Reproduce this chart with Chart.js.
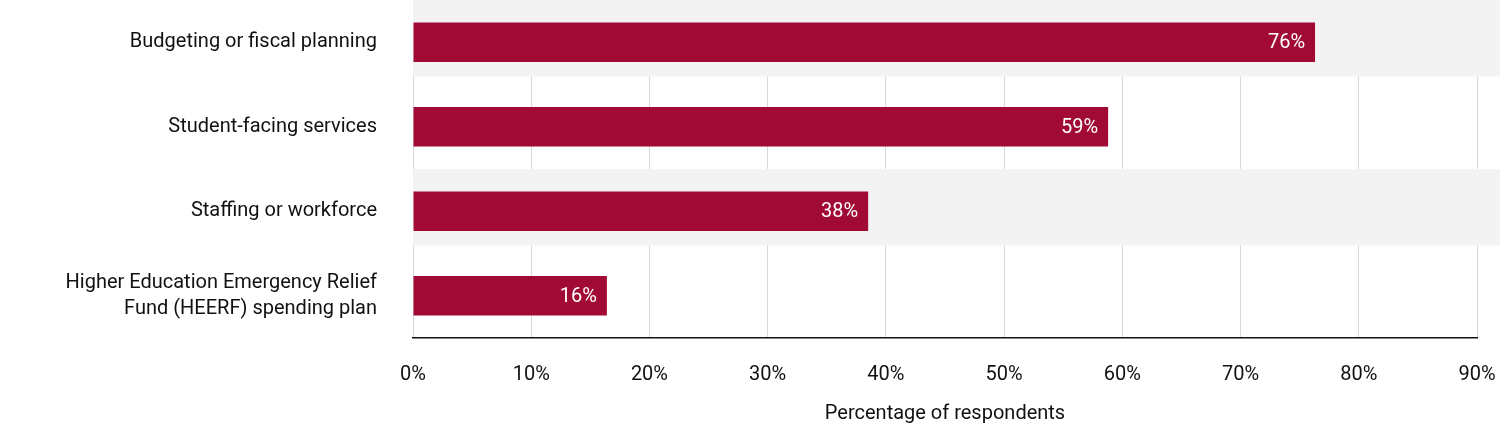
<!DOCTYPE html>
<html lang="en">
<head>
<meta charset="UTF-8">
<title>Respondents chart</title>
<script src="https://cdn.jsdelivr.net/npm/chart.js@4.4.0/dist/chart.umd.min.js"></script>
<style>
    html, body { margin: 0; padding: 0; background: #fff; }
    #wrap { width: 1500px; height: 430px; position: relative; }
</style>
</head>
<body>
<div id="wrap"><canvas id="chart"></canvas></div>
<script>
    const categories = [
        'Budgeting or fiscal planning',
        'Student-facing services',
        'Staffing or workforce',
        ['Higher Education Emergency Relief', 'Fund (HEERF) spending plan']
    ];
    const values = [76.3, 58.8, 38.5, 16.4];
    const valueLabels = ['76%', '59%', '38%', '16%'];
    const xTicks = [0, 10, 20, 30, 40, 50, 60, 70, 80, 90];

    const FONT = 'Roboto, sans-serif';

    // gray stripes behind every other row
    const bandPlugin = {
        id: 'bands',
        beforeDatasetsDraw(chart) {
            const { ctx, chartArea, scales } = chart;
            const y = scales.y;
            ctx.save();
            ctx.fillStyle = '#f3f3f3';
            categories.forEach((c, i) => {
                if (i % 2) return;
                const c0 = y.getPixelForValue(i);
                const half = (y.getPixelForValue(1) - y.getPixelForValue(0)) / 2;
                ctx.fillRect(chartArea.left, c0 - half, chart.width - chartArea.left, half * 2 - 8);
            });
            ctx.restore();
        }
    };

    const labelPlugin = {
        id: 'valueLabels',
        afterDatasetsDraw(chart) {
            const { ctx } = chart;
            const meta = chart.getDatasetMeta(0);
            ctx.save();
            ctx.fillStyle = '#fff';
            ctx.font = '20px ' + FONT;
            ctx.textAlign = 'right';
            ctx.textBaseline = 'middle';
            meta.data.forEach((bar, i) => {
                ctx.fillText(valueLabels[i], bar.x - 10, bar.y + 1);
            });
            ctx.restore();
        }
    };

    new Chart(document.getElementById('chart'), {
        type: 'bar',
        data: {
            labels: categories,
            datasets: [{
                data: values,
                backgroundColor: '#a10a35',
                categoryPercentage: 0.94,
                barPercentage: 0.5
            }]
        },
        options: {
            indexAxis: 'y',
            responsive: true,
            maintainAspectRatio: false,
            animation: false,
            layout: { padding: { top: 0, right: 0, bottom: 4, left: 0 } },
            plugins: { legend: { display: false }, tooltip: { enabled: false } },
            scales: {
                x: {
                    min: 0,
                    max: 90,
                    afterBuildTicks: axis => { axis.ticks = xTicks.map(v => ({ value: v })); },
                    afterFit: axis => { axis.paddingRight = 23; axis.height = 88; },
                    ticks: {
                        color: '#111',
                        font: { size: 20, family: FONT },
                        padding: 25,
                        callback: v => v + '%'
                    },
                    grid: { color: '#d8d8d8', drawTicks: false, tickBorderDash: [6, 6] },
                    border: { display: true, color: '#111', width: 1.5 },
                    title: {
                        display: true,
                        text: 'Percentage of respondents',
                        color: '#111',
                        font: { size: 20, family: FONT },
                        padding: { top: 2, bottom: 0 }
                    }
                },
                y: {
                    afterFit: axis => { axis.width = 413; axis.paddingTop = 0; axis.paddingBottom = 0; },
                    ticks: {
                        color: '#111',
                        font: { size: 20, family: FONT, lineHeight: 1.3 },
                        padding: 36
                    },
                    grid: { display: false, drawTicks: false },
                    border: { display: false }
                }
            }
        },
        plugins: [bandPlugin, labelPlugin]
    });
</script>
</body>
</html>
